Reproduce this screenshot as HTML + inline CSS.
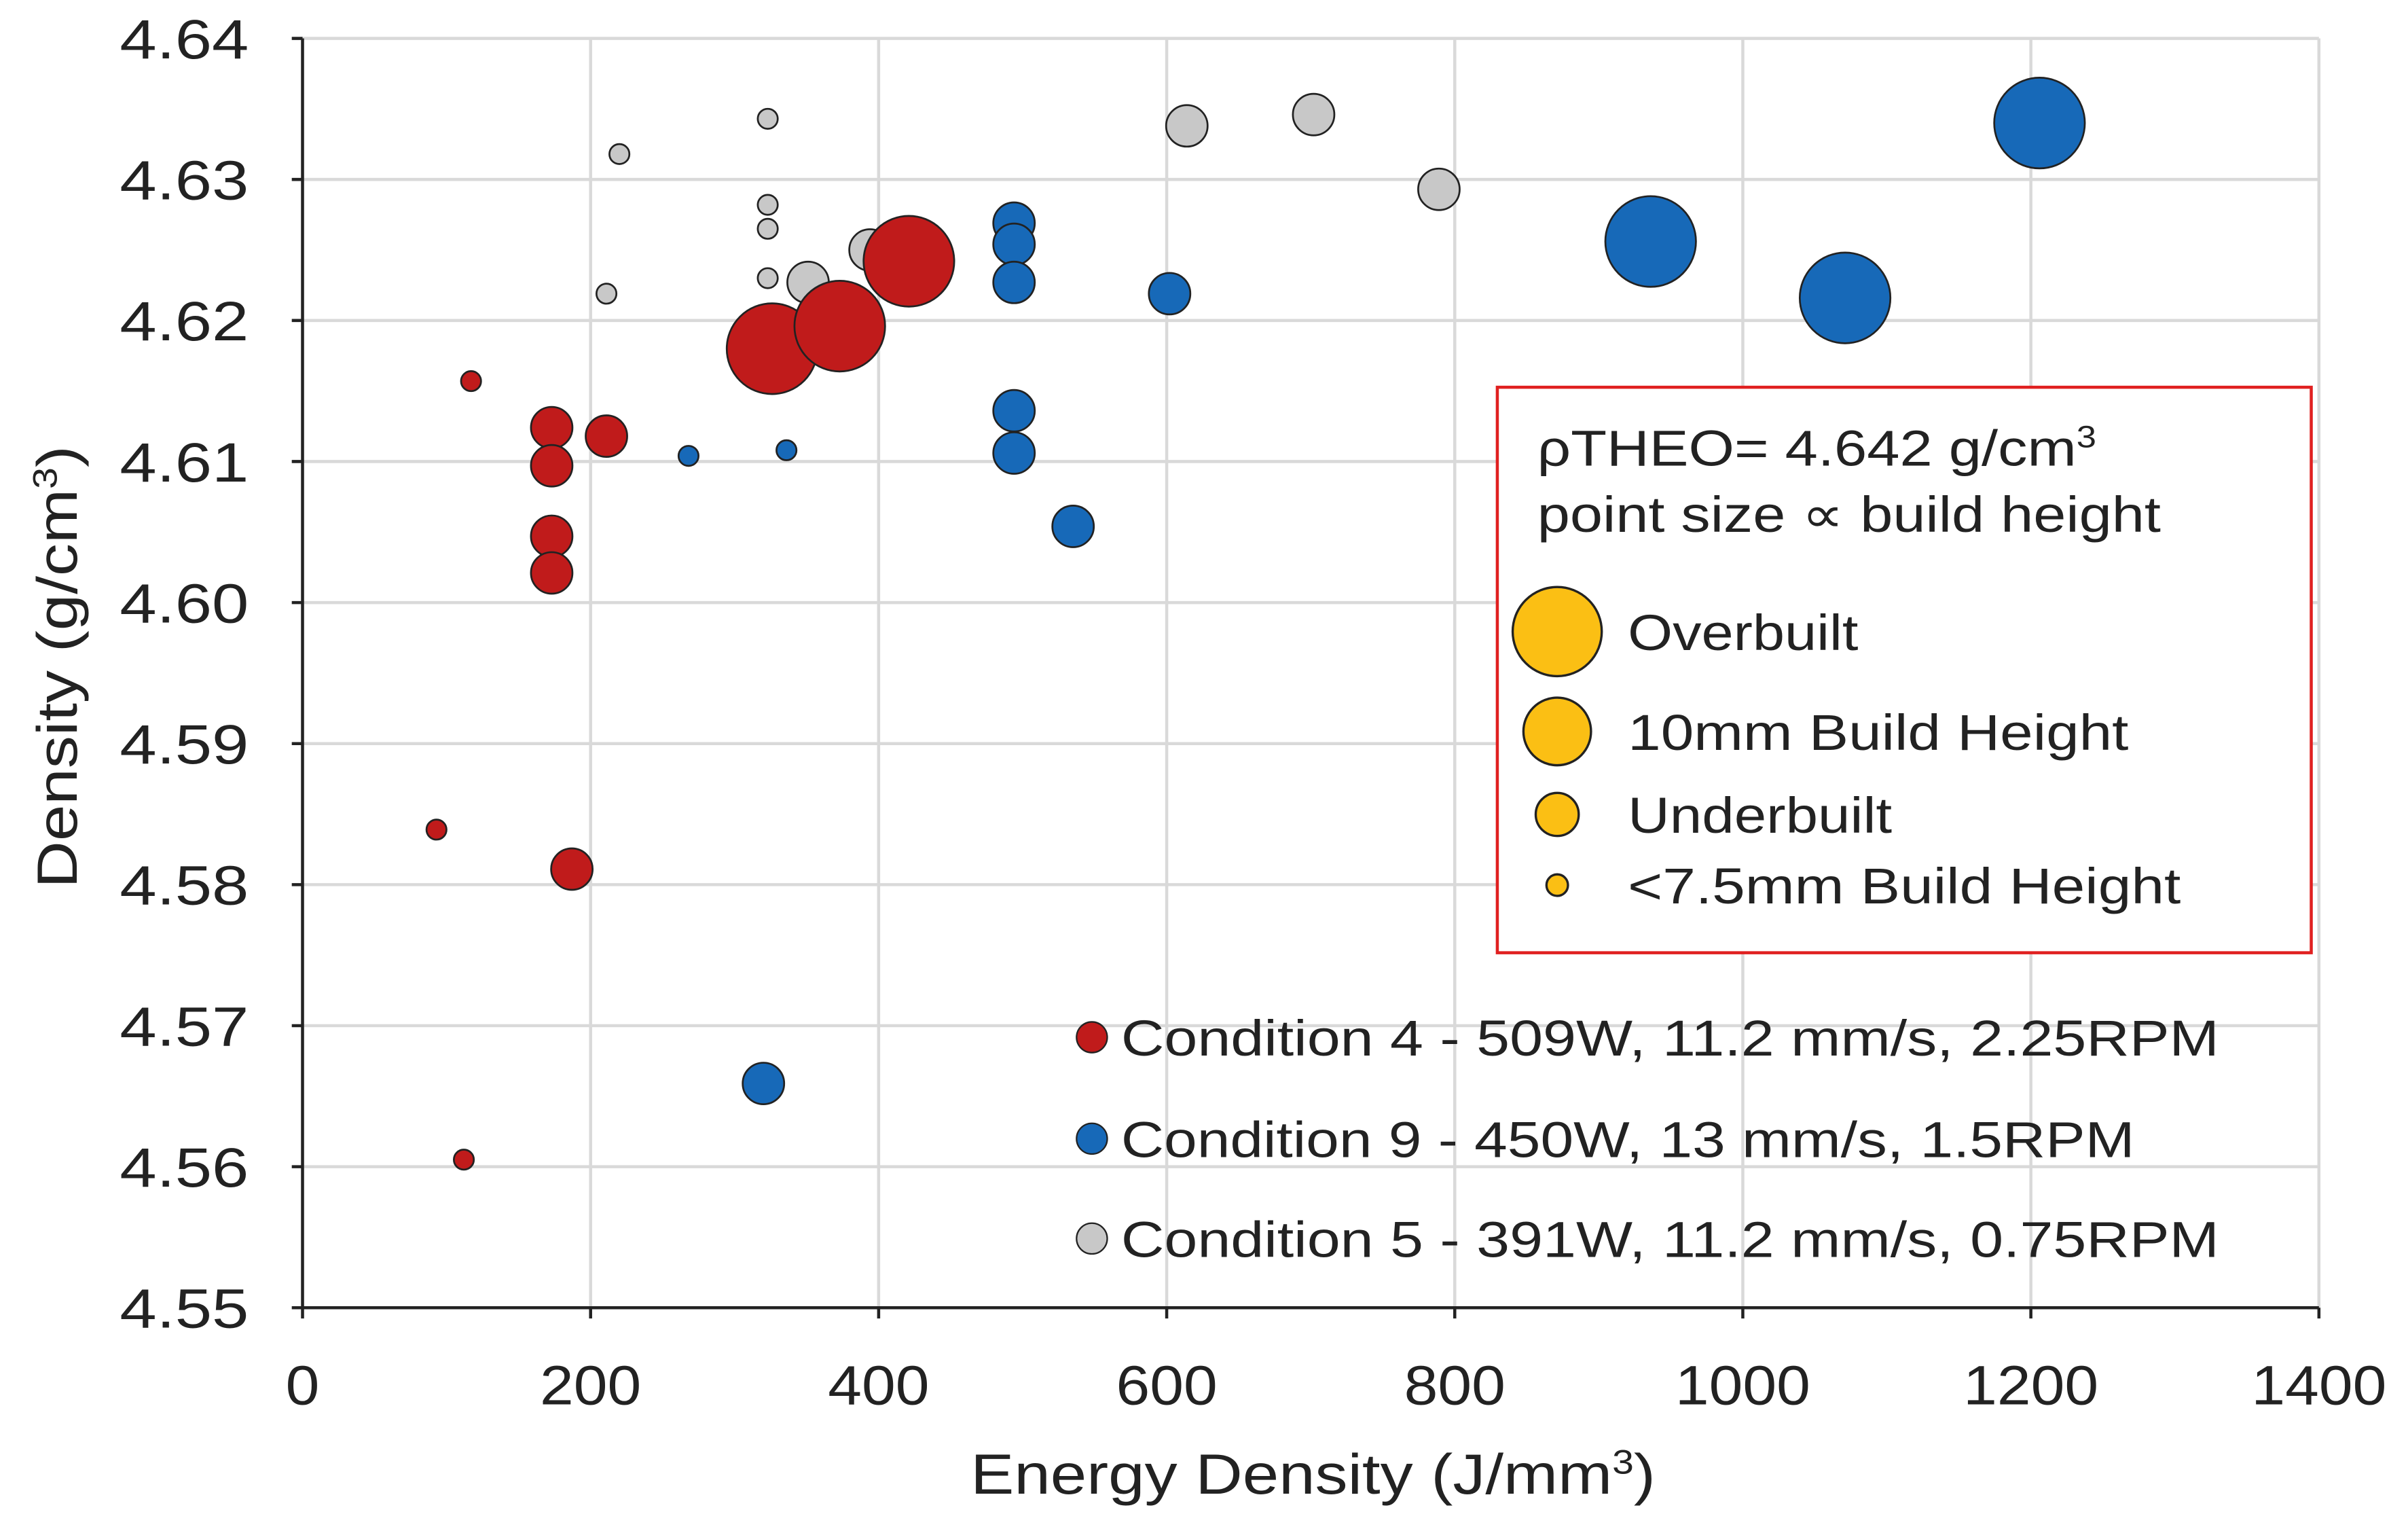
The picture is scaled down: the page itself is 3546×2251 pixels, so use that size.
<!DOCTYPE html>
<html><head><meta charset="utf-8"><style>
html,body{margin:0;padding:0;background:#fff;}
svg{display:block;font-family:"Liberation Sans",Arial,sans-serif;}
</style></head><body>
<svg id="chart" width="3546" height="2251" viewBox="0 0 1568 995" preserveAspectRatio="none" xmlns="http://www.w3.org/2000/svg">
<rect width="1568" height="995" fill="#fff"/>
<g id="grid"></g>
<g id="axes"></g>
<g id="marks"></g>
<text x="632" y="972" font-size="37" textLength="446" lengthAdjust="spacingAndGlyphs" fill="#222">Energy Density (J/mm<tspan dy="-13" font-size="22">3</tspan><tspan dy="13">)</tspan></text>
<text transform="translate(50,578) rotate(-90)" font-size="37" textLength="288" lengthAdjust="spacingAndGlyphs" fill="#222">Density (g/cm<tspan dy="-13" font-size="22">3</tspan><tspan dy="13">)</tspan></text>
<g>
<rect x="975" y="252" width="530" height="368" fill="#fff" stroke="#e02020" stroke-width="2"/>
<text x="1001" y="303" font-size="33" textLength="364" lengthAdjust="spacingAndGlyphs" fill="#222">ρTHEO= 4.642 g/cm<tspan dy="-12" font-size="20">3</tspan></text>
<text x="1001" y="346" font-size="33" textLength="406" lengthAdjust="spacingAndGlyphs" fill="#222">point size ∝ build height</text>
<circle cx="1014" cy="411" r="29" fill="#fbbf14" stroke="#222" stroke-width="1.5"/>
<text x="1060" y="423" font-size="33" textLength="150" lengthAdjust="spacingAndGlyphs" fill="#222">Overbuilt</text>
<circle cx="1014" cy="476" r="22" fill="#fbbf14" stroke="#222" stroke-width="1.5"/>
<text x="1060" y="488" font-size="33" textLength="326" lengthAdjust="spacingAndGlyphs" fill="#222">10mm Build Height</text>
<circle cx="1014" cy="530" r="14" fill="#fbbf14" stroke="#222" stroke-width="1.5"/>
<text x="1060" y="542" font-size="33" textLength="172" lengthAdjust="spacingAndGlyphs" fill="#222">Underbuilt</text>
<circle cx="1014" cy="576" r="7" fill="#fbbf14" stroke="#222" stroke-width="1.5"/>
<text x="1060" y="588" font-size="33" textLength="360" lengthAdjust="spacingAndGlyphs" fill="#222">&lt;7.5mm Build Height</text>
</g>
<g>
<circle cx="711" cy="675" r="10" fill="#c01b1b" stroke="#222" stroke-width="1"/>
<text x="730" y="687" font-size="33" textLength="715" lengthAdjust="spacingAndGlyphs" fill="#222">Condition 4 - 509W, 11.2 mm/s, 2.25RPM</text>
<circle cx="711" cy="741" r="10" fill="#1769b8" stroke="#222" stroke-width="1"/>
<text x="730" y="753" font-size="33" textLength="660" lengthAdjust="spacingAndGlyphs" fill="#222">Condition 9 - 450W, 13 mm/s, 1.5RPM</text>
<circle cx="711" cy="806" r="10" fill="#c8c8c8" stroke="#222" stroke-width="1"/>
<text x="730" y="818" font-size="33" textLength="715" lengthAdjust="spacingAndGlyphs" fill="#222">Condition 5 - 391W, 11.2 mm/s, 0.75RPM</text>
</g>
</svg>
<script>
const xTicks=[0,200,400,600,800,1000,1200,1400];
const yTicks=[4.55,4.56,4.57,4.58,4.59,4.60,4.61,4.62,4.63,4.64];
const yTickLabels=["4.55","4.56","4.57","4.58","4.59","4.60","4.61","4.62","4.63","4.64"];
const redX=[117,173,173,173,173,211,93,187,112,326,373,421];
const redY=[4.6157,4.6124,4.6097,4.6047,4.6021,4.6118,4.5839,4.5811,4.5605,4.6180,4.6196,4.6242];
const redSize=[1,2,2,2,2,2,1,2,1,3,3,3];
const blueX=[320,268,336,494,494,494,494,494,535,602,936,1071,1206];
const blueY=[4.5659,4.6104,4.6108,4.6269,4.6254,4.6227,4.6136,4.6106,4.6054,4.6219,4.6256,4.6216,4.6340];
const blueSize=[2,1,1,2,2,2,2,2,2,2,3,3,3];
const grayX=[323,220,323,323,323,211,351,394,614,702,789];
const grayY=[4.6343,4.6318,4.6282,4.6265,4.6230,4.6219,4.6227,4.6250,4.6338,4.6346,4.6293];
const graySize=[1,1,1,1,1,1,2,2,2,2,2];
const NS="http://www.w3.org/2000/svg";
const L=197,R=1510,T=25,B=851;
function xs(v){return L+(v-0)/1400*(R-L);}
function ys(v){return B-(v-4.55)/0.09*(B-T);}
function rs(s){return s===1?6.5:(s===2?13.5:29.5);}
function mk(tag,attrs,parent){const e=document.createElementNS(NS,tag);for(const k in attrs)e.setAttribute(k,attrs[k]);parent.appendChild(e);return e;}
const grid=document.getElementById('grid'),axes=document.getElementById('axes'),marks=document.getElementById('marks');
xTicks.forEach(v=>{
  if(v>0){const l=mk('line',{x1:xs(v),x2:xs(v),y1:T,y2:B,stroke:'#d9d9d9','stroke-width':2},grid);
  
  }
  const w=String(v).length*22;
  const t=mk('text',{x:xs(v),y:914,'font-size':36,'text-anchor':'middle',fill:'#222',textLength:w,lengthAdjust:'spacingAndGlyphs'},axes);t.textContent=v;
  
  
});
yTicks.forEach((v,i)=>{
  if(i>0){const l=mk('line',{x1:L,x2:R,y1:ys(v),y2:ys(v),stroke:'#d9d9d9','stroke-width':2},grid);
  
  }
  const t=mk('text',{x:78,y:ys(v)+13,'font-size':36,fill:'#222',textLength:84,lengthAdjust:'spacingAndGlyphs'},axes);t.textContent=yTickLabels[i];
  
  
  const tk=mk('line',{x1:L-7,x2:L,y1:ys(v),y2:ys(v),stroke:'#222','stroke-width':2},axes);
  
  
});
xTicks.forEach(v=>{const tk=mk('line',{x1:xs(v),x2:xs(v),y1:B,y2:B+7,stroke:'#222','stroke-width':2},axes);
  
  });
const ax=mk('line',{x1:L,x2:L,y1:T,y2:B,stroke:'#222','stroke-width':2},axes);


const bx=mk('line',{x1:L,x2:R,y1:B,y2:B,stroke:'#222','stroke-width':2},axes);


function series(X,Y,S,fill,name){
  X.forEach((x,i)=>{const c=mk('circle',{cx:xs(x),cy:ys(Y[i]),r:rs(S[i]),fill:fill,stroke:'#222','stroke-width':1.2},marks);
  
  });
}
series(grayX,grayY,graySize,'#c8c8c8','condition-5-point');
series(blueX,blueY,blueSize,'#1769b8','condition-9-point');
series(redX,redY,redSize,'#c01b1b','condition-4-point');
</script>
</body></html>
